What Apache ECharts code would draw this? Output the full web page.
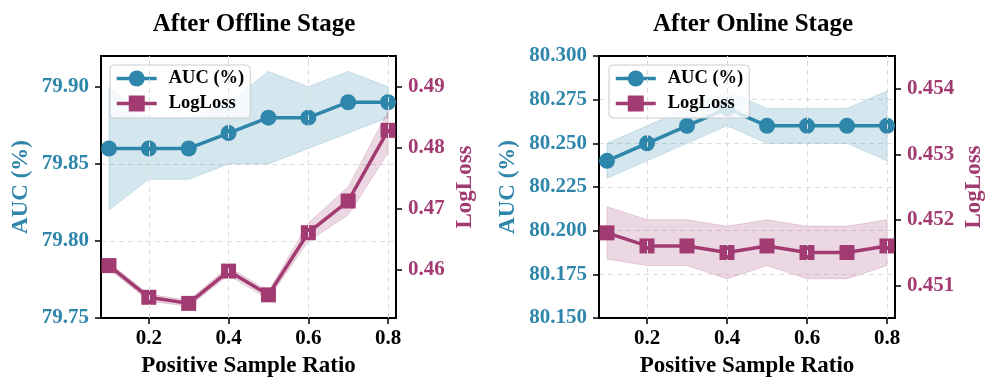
<!DOCTYPE html>
<html>
<head>
<meta charset="utf-8">
<script src="https://cdn.jsdelivr.net/npm/echarts@6/dist/echarts.min.js"></script>
<style>
  html, body { margin: 0; padding: 0; background: #fff; }
  #chart { width: 997px; height: 391px; }
</style>
</head>
<body>
<div id="chart"></div>
<script>
// data
var ratios = [0.1, 0.2, 0.3, 0.4, 0.5, 0.6, 0.7, 0.8];
var xTicks = [0.2, 0.4, 0.6, 0.8];

// After Offline Stage
var offAuc   = [79.86, 79.86, 79.86, 79.87, 79.88, 79.88, 79.89, 79.89];
var offAucLo = [79.82, 79.84, 79.84, 79.85, 79.85, 79.86, 79.87, 79.88];
var offAucHi = [79.90, 79.88, 79.88, 79.89, 79.91, 79.90, 79.91, 79.90];
var offLoss   = [0.4607, 0.4555, 0.4545, 0.4598, 0.4559, 0.4661, 0.4713, 0.4829];
var offLossLo = [0.4601, 0.4549, 0.4540, 0.4591, 0.4552, 0.4647, 0.4690, 0.4792];
var offLossHi = [0.4612, 0.4560, 0.4550, 0.4605, 0.4565, 0.4677, 0.4736, 0.4860];
var offAucTicks  = [79.75, 79.80, 79.85, 79.90];
var offLossTicks = [0.46, 0.47, 0.48, 0.49];

// After Online Stage
var onAuc   = [80.24, 80.25, 80.26, 80.27, 80.26, 80.26, 80.26, 80.26];
var onAucLo = [80.23, 80.24, 80.25, 80.26, 80.25, 80.25, 80.25, 80.24];
var onAucHi = [80.25, 80.26, 80.27, 80.28, 80.27, 80.27, 80.27, 80.28];
var onLoss   = [0.4518, 0.4516, 0.4516, 0.4515, 0.4516, 0.4515, 0.4515, 0.4516];
var onLossLo = [0.4514, 0.4513, 0.4513, 0.4511, 0.4513, 0.4511, 0.4511, 0.4513];
var onLossHi = [0.4522, 0.4520, 0.4520, 0.4519, 0.4520, 0.4519, 0.4519, 0.4520];
var onAucTicks  = [80.15, 80.175, 80.2, 80.225, 80.25, 80.275, 80.3];
var onLossTicks = [0.451, 0.452, 0.453, 0.454];

var BLUE = '#2E86AB';
var PINK = '#A23B72';
var FONT = '"Liberation Serif", "Times New Roman", serif';

var myChart = echarts.init(document.getElementById('chart'));

function zip(xs, ys) {
    return xs.map(function (x, i) { return [x, ys[i]]; });
}

// shaded std band drawn as one polygon through the axes' scale
function band(xi, yi, lo, hi, color) {
    return {
        type: 'custom',
        xAxisIndex: xi,
        yAxisIndex: yi,
        silent: true,
        z: 1,
        data: ratios.map(function (x, i) { return [x, lo[i], hi[i]]; }),
        encode: { x: 0, y: [1, 2] },
        renderItem: function (params, api) {
            if (params.dataIndex !== 0) return;
            var pts = [];
            for (var i = 0; i < ratios.length; i++) pts.push(api.coord([ratios[i], hi[i]]));
            for (var j = ratios.length - 1; j >= 0; j--) pts.push(api.coord([ratios[j], lo[j]]));
            return {
                type: 'polygon',
                shape: { points: pts },
                style: { fill: color, stroke: color, lineWidth: 1 }
            };
        }
    };
}

function lineSeries(name, xi, yi, data, color, symbol, withGrid) {
    var s = {
        name: name,
        type: 'line',
        xAxisIndex: xi,
        yAxisIndex: yi,
        data: zip(ratios, data),
        symbol: symbol,
        symbolSize: symbol === 'circle' ? 16 : 15,
        z: 3,
        lineStyle: { color: color, width: 3.5 },
        itemStyle: { color: color, borderWidth: 0 },
        emphasis: { disabled: true }
    };
    if (withGrid) {
        s.markLine = {
            silent: true,
            symbol: 'none',
            label: { show: false },
            animation: false,
            lineStyle: { color: '#dcdcdc', type: [5, 4], width: 1 },
            data: xTicks.map(function (v) { return { xAxis: v }; })
        };
    }
    return s;
}

function xAxis(gi) {
    return {
        type: 'value',
        gridIndex: gi,
        min: 0.08,
        max: 0.82,
        name: 'Positive Sample Ratio',
        nameLocation: 'middle',
        nameGap: 37,
        nameTextStyle: { color: '#000', fontFamily: FONT, fontWeight: 'bold', fontSize: 23 },
        axisLine: { show: true, lineStyle: { color: '#000', width: 2 } },
        axisTick: { show: true, length: 6, customValues: xTicks, lineStyle: { color: '#000', width: 1.5 } },
        axisLabel: {
            customValues: xTicks,
            margin: 10,
            color: '#000', fontFamily: FONT, fontWeight: 'bold', fontSize: 21,
            formatter: function (v) { return v.toFixed(1); }
        },
        splitLine: { show: false }
    };
}

function yAxis(gi, pos, color, name, opts) {
    var ax = {
        type: 'value',
        gridIndex: gi,
        position: pos,
        min: opts.min,
        max: opts.max,
        name: name,
        nameLocation: 'middle',
        nameRotate: 90,
        nameGap: opts.nameGap,
        nameTextStyle: { color: color, fontFamily: FONT, fontWeight: 'bold', fontSize: 23 },
        axisLine: { show: true, lineStyle: { color: '#000', width: 2 } },
        axisTick: { show: true, length: 6, customValues: opts.ticks, lineStyle: { color: '#000', width: 1.5 } },
        axisLabel: {
            customValues: opts.ticks,
            margin: 12,
            color: color, fontFamily: FONT, fontWeight: 'bold', fontSize: 21,
            formatter: function (v) { return v.toFixed(opts.digits); }
        },
        splitLine: { show: false }
    };
    if (opts.interval) {
        ax.interval = opts.interval;
        ax.splitLine = {
            show: true, showMinLine: false, showMaxLine: false,
            lineStyle: { color: '#dcdcdc', type: [5, 4], width: 1 }
        };
    }
    return ax;
}

function legend(left) {
    return {
        left: left,
        top: 65,
        orient: 'vertical',
        itemWidth: 40,
        itemHeight: 20,
        itemGap: 6,
        padding: [4, 6, 5, 5],
        backgroundColor: 'rgba(255,255,255,0.8)',
        borderColor: '#cccccc',
        borderWidth: 1,
        borderRadius: 4,
        selectedMode: false,
        lineStyle: { width: 3.5 },
        data: ['AUC (%)', 'LogLoss'],
        textStyle: { color: '#000', fontFamily: FONT, fontWeight: 'bold', fontSize: 18.5, padding: [0, 0, 0, 7] }
    };
}

var option = {
    animation: false,
    backgroundColor: '#fff',
    title: [{
        text: 'After Offline Stage',
        left: 249, top: 7, textAlign: 'center',
        textStyle: { color: '#000', fontFamily: FONT, fontWeight: 'bold', fontSize: 25 }
    }, {
        text: 'After Online Stage',
        left: 748, top: 7, textAlign: 'center',
        textStyle: { color: '#000', fontFamily: FONT, fontWeight: 'bold', fontSize: 25 }
    }],
    legend: [legend(110), legend(609)],
    grid: [
        { left: 101, top: 56, width: 295, height: 262, show: true, borderColor: '#000', borderWidth: 2, outerBoundsMode: 'none' },
        { left: 599, top: 56, width: 296, height: 262, show: true, borderColor: '#000', borderWidth: 2, outerBoundsMode: 'none' }
    ],
    xAxis: [xAxis(0), xAxis(1)],
    yAxis: [
        yAxis(0, 'left', BLUE, 'AUC (%)', { min: 79.75, max: 79.92, interval: 0.05, ticks: offAucTicks, digits: 2, nameGap: 68 }),
        yAxis(0, 'right', PINK, 'LogLoss', { min: 0.4521, max: 0.4951, ticks: offLossTicks, digits: 2, nameGap: 58 }),
        yAxis(1, 'left', BLUE, 'AUC (%)', { min: 80.15, max: 80.30, interval: 0.025, ticks: onAucTicks, digits: 3, nameGap: 79 }),
        yAxis(1, 'right', PINK, 'LogLoss', { min: 0.4505, max: 0.4545, ticks: onLossTicks, digits: 3, nameGap: 68 })
    ],
    series: [
        band(0, 0, offAucLo, offAucHi, 'rgba(46,134,171,0.2)'),
        band(0, 1, offLossLo, offLossHi, 'rgba(162,59,114,0.2)'),
        lineSeries('AUC (%)', 0, 0, offAuc, BLUE, 'circle', true),
        lineSeries('LogLoss', 0, 1, offLoss, PINK, 'rect', false),
        band(1, 2, onAucLo, onAucHi, 'rgba(46,134,171,0.2)'),
        band(1, 3, onLossLo, onLossHi, 'rgba(162,59,114,0.2)'),
        lineSeries('AUC (%)', 1, 2, onAuc, BLUE, 'circle', true),
        lineSeries('LogLoss', 1, 3, onLoss, PINK, 'rect', false)
    ]
};

myChart.setOption(option);
window.addEventListener('resize', function () {
    myChart.resize();
});
</script>
</body>
</html>
